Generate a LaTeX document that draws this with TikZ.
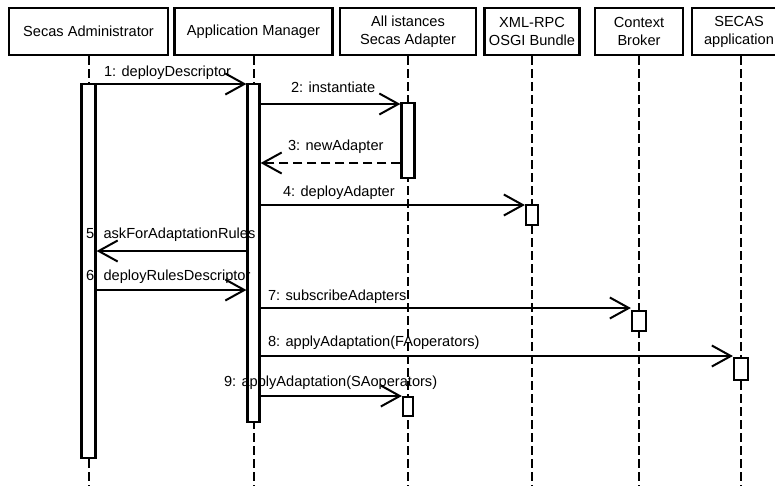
\documentclass[tikz,border=0pt]{standalone}
\usepackage{fontspec}
\setmainfont{Liberation Sans}
\usetikzlibrary{arrows.meta}
\begin{document}
\begin{tikzpicture}[x=1pt,y=-1pt,
  every node/.style={font=\fontsize{14.6}{18}\selectfont},
  head/.style={draw, line width=2.5pt, minimum height=47pt, inner sep=0pt, align=center},
  life/.style={line width=2pt, dash pattern=on 9pt off 4pt},
  act/.style={draw, fill=white, line width=2.2pt, inner sep=0pt, anchor=north},
  msg/.style={line width=2pt, -{Straight Barb[length=19pt,width=21pt]}},
  reply/.style={msg, dash pattern=on 9pt off 5pt},
  lbl/.style={anchor=base west, inner sep=0pt},
]
\useasboundingbox (0,0) rectangle (775,485);
\clip (0,0) rectangle (775,485);

% participants
\node[head, minimum width=159pt] (sa) at (88.5,31.5) {Secas Administrator};
\node[head, minimum width=158pt] (am) at (253.5,31.5) {Application Manager};
\node[head, minimum width=136pt] (ad) at (408,31.5) {All istances\\Secas Adapter};
\node[head, minimum width=95pt]  (xb) at (532,31.5) {XML-RPC\\OSGI Bundle};
\node[head, minimum width=88pt]  (cb) at (639,31.5) {Context\\Broker};
\node[head, minimum width=94pt]  (sc) at (739,31.5) {SECAS\\application};

% lifelines
\foreach \p in {sa,am,ad,xb,cb}
  \draw[life] (\p.south) -- (\p.south |- 0,486);
\coordinate (scl) at ([xshift=2pt]sc.south);
\draw[life] (scl) -- (scl |- 0,486);

% activation bars
\node[act, minimum width=14pt, minimum height=374pt] (a1) at (sa.south |- 0,83) {};
\node[act, minimum width=12pt, minimum height=338pt] (a2) at (am.south |- 0,83) {};
\node[act, minimum width=13pt, minimum height=75pt]  (a3) at (ad.south |- 0,102) {};
\node[act, minimum width=12pt, minimum height=20pt]  (a4) at (xb.south |- 0,204) {};
\node[act, minimum width=14pt, minimum height=20pt]  (a5) at (cb.south |- 0,310) {};
\node[act, minimum width=14pt, minimum height=22pt]  (a6) at (scl |- 0,357) {};
\node[act, minimum width=10pt, minimum height=19pt]  (a9) at (ad.south |- 0,396) {};

% messages
\draw[msg] (a1.east |- 0,84) -- (a2.west |- 0,84)
  node[lbl] at (103,76) {1: deployDescriptor};
\draw[msg] (a2.east |- 0,104) -- (a3.west |- 0,104)
  node[lbl] at (290,92) {2: instantiate};
\draw[reply] (a3.west |- 0,163) -- (a2.east |- 0,163)
  node[lbl] at (287,150) {3: newAdapter};
\draw[msg] (a2.east |- 0,205) -- (a4.west |- 0,205)
  node[lbl] at (282,196) {4: deployAdapter};
\draw[msg] (a2.west |- 0,251) -- (a1.east |- 0,251)
  node[lbl] at (85,238) {5: askForAdaptationRules};
\draw[msg] (a1.east |- 0,290) -- (a2.west |- 0,290)
  node[lbl] at (85,280) {6: deployRulesDescriptor};
\draw[msg] (a2.east |- 0,308) -- (a5.west |- 0,308)
  node[lbl] at (267,300) {7: subscribeAdapters};
\draw[msg] (a2.east |- 0,356) -- (a6.west |- 0,356)
  node[lbl] at (267,346) {8: applyAdaptation(FAoperators)};
\draw[msg] (a2.east |- 0,396) -- (a9.west |- 0,396)
  node[lbl] at (223,386) {9: applyAdaptation(SAoperators)};
\end{tikzpicture}
\end{document}
